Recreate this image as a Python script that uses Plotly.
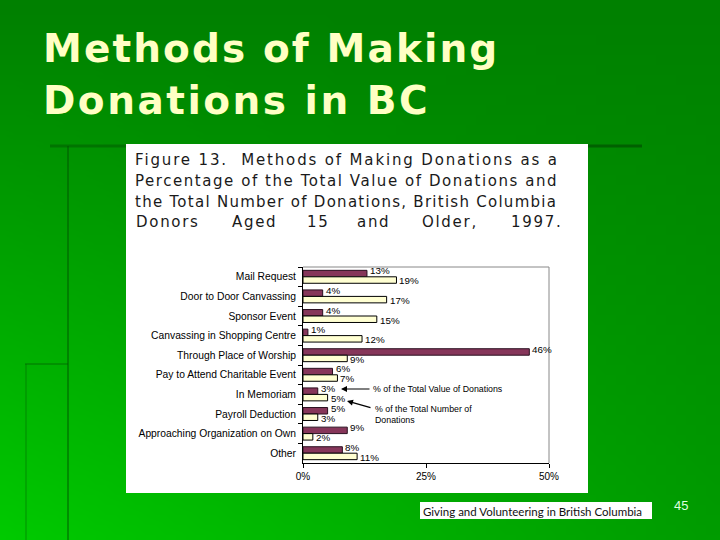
import base64, struct, zlib
import plotly.graph_objects as go

# ---------------- data ----------------
categories = [
    "Mail Request",
    "Door to Door Canvassing",
    "Sponsor Event",
    "Canvassing in Shopping Centre",
    "Through Place of Worship",
    "Pay to Attend Charitable Event",
    "In Memoriam",
    "Payroll Deduction",
    "Approaching Organization on Own",
    "Other",
]
pct_value = [13, 4, 4, 1, 46, 6, 3, 5, 9, 8]
pct_number = [19, 17, 15, 12, 9, 7, 5, 3, 2, 11]
x_tick_vals = [0, 25, 50]
x_tick_text = ["0%", "25%", "50%"]

W, H = 720, 540


def px(x):
    return x / W


def py(y):
    return 1 - y / H


# ---------------- gradient background image ----------------
def gradient_png(w, h):
    rows = b""
    for j in range(h):
        row = b"\x00"
        for i in range(w):
            fy = j / (h - 1)
            fx = i / (w - 1)
            g = 128 + 74 * fy * (1 - 0.62 * fx)
            row += bytes([0, int(min(255, g)), 0])
        rows += row

    def chunk(t, d):
        c = struct.pack(">I", len(d)) + t + d
        return c + struct.pack(">I", zlib.crc32(t + d) & 0xFFFFFFFF)

    png = b"\x89PNG\r\n\x1a\n"
    png += chunk(b"IHDR", struct.pack(">IIBBBBB", w, h, 8, 2, 0, 0, 0))
    png += chunk(b"IDAT", zlib.compress(rows, 9))
    png += chunk(b"IEND", b"")
    return "data:image/png;base64," + base64.b64encode(png).decode()


fig = go.Figure()

fig.add_trace(go.Bar(
    y=categories, x=pct_value, orientation="h",
    name="% of the Total Value of Donations",
    marker=dict(color="#86365a", line=dict(color="#2a1020", width=1)),
))
fig.add_trace(go.Bar(
    y=categories, x=pct_number, orientation="h",
    name="% of the Total Number of Donations",
    marker=dict(color="#ffffd2", line=dict(color="#000", width=1)),
))

shapes = [
    dict(type="rect", xref="paper", yref="paper", x0=px(126), x1=px(588),
         y0=py(493), y1=py(144), fillcolor="white", line=dict(width=0), layer="below"),
    dict(type="line", xref="paper", yref="paper", x0=px(68), x1=px(68), y0=py(146), y1=py(540),
         line=dict(color="rgba(0,80,0,0.45)", width=2), layer="below"),
    dict(type="line", xref="paper", yref="paper", x0=px(50), x1=px(126), y0=py(146), y1=py(146),
         line=dict(color="rgba(0,80,0,0.45)", width=3), layer="below"),
    dict(type="line", xref="paper", yref="paper", x0=px(588), x1=px(642), y0=py(146), y1=py(146),
         line=dict(color="rgba(0,70,0,0.6)", width=3), layer="below"),
    dict(type="line", xref="paper", yref="paper", x0=px(25), x1=px(68), y0=py(364), y1=py(364),
         line=dict(color="rgba(0,90,0,0.35)", width=2), layer="below"),
    dict(type="line", xref="paper", yref="paper", x0=px(26), x1=px(26), y0=py(364), y1=py(540),
         line=dict(color="rgba(0,90,0,0.25)", width=2), layer="below"),
    dict(type="rect", xref="paper", yref="paper", x0=px(420), x1=px(652),
         y0=py(519), y1=py(502), fillcolor="white", line=dict(width=0), layer="below"),
]

ann = []
# value labels at bar ends (data coordinates)
LABEL_FONT = dict(family="Liberation Sans, Arial", size=9.8, color="#000")
for cat, v in zip(categories, pct_value):
    ann.append(dict(text=f"{v}%", x=v, y=cat, xref="x", yref="y", xanchor="left", yanchor="middle",
                    xshift=1, yshift=6, showarrow=False, font=LABEL_FONT))
for cat, v in zip(categories, pct_number):
    ann.append(dict(text=f"{v}%", x=v, y=cat, xref="x", yref="y", xanchor="left", yanchor="middle",
                    xshift=1, yshift=-4, showarrow=False, font=LABEL_FONT))

TITLE_FONT = dict(family="DejaVu Sans", size=39, color="#ffffc4")
ann.append(dict(text='<span style="letter-spacing:2.1px"><b>Methods of Making</b></span>', x=px(41), y=py(48),
                xref="paper", yref="paper",
                xanchor="left", yanchor="middle", showarrow=False, font=TITLE_FONT))
ann.append(dict(text='<span style="letter-spacing:2.5px"><b>Donations in BC</b></span>', x=px(41), y=py(101),
                xref="paper", yref="paper",
                xanchor="left", yanchor="middle", showarrow=False, font=TITLE_FONT))

CAP_FONT = dict(family="DejaVu Sans", size=15, color="#1a1a1a")
cap_lines = [
    ("Figure 13.  Methods of Making Donations as a", 160, 1.85),
    ("Percentage of the Total Value of Donations and", 181, 1.55),
    ("the Total Number of Donations, British Columbia", 202, 1.27),
]
for t, yy, sp in cap_lines:
    ann.append(dict(text=f'<span style="letter-spacing:{sp}px">{t}</span>', x=px(133), y=py(yy),
                    xref="paper", yref="paper",
                    xanchor="left", yanchor="middle", showarrow=False, font=CAP_FONT))
last_words = [("Donors", 134), ("Aged", 230), ("15", 305), ("and", 355), ("Older,", 420), ("1997.", 509)]
for t, xx in last_words:
    ann.append(dict(text=f'<span style="letter-spacing:1.7px">{t}</span>', x=px(xx), y=py(222),
                    xref="paper", yref="paper",
                    xanchor="left", yanchor="middle", showarrow=False, font=CAP_FONT))

NOTE_FONT = dict(family="Liberation Sans, Arial", size=8.8, color="#000")
ann.append(dict(text="% of the Total Value of Donations", x=px(371), y=py(389), xref="paper", yref="paper",
                xanchor="left", yanchor="middle", showarrow=False, font=NOTE_FONT))
ann.append(dict(text="", x=px(341), y=py(389), xref="paper", yref="paper",
                ax=30, ay=0, axref="pixel", ayref="pixel",
                showarrow=True, arrowhead=2, arrowsize=1, arrowwidth=1.2, arrowcolor="#000"))
ann.append(dict(text="% of the Total Number of<br>Donations", x=px(373), y=py(414), xref="paper", yref="paper",
                xanchor="left", yanchor="middle", align="left", showarrow=False, font=NOTE_FONT))
ann.append(dict(text="", x=px(347), y=py(401), xref="paper", yref="paper",
                ax=25, ay=7, axref="pixel", ayref="pixel",
                showarrow=True, arrowhead=2, arrowsize=1, arrowwidth=1.2, arrowcolor="#000"))

ann.append(dict(text="Giving and Volunteering in British Columbia", x=px(421), y=py(511), xref="paper", yref="paper",
                xanchor="left", yanchor="middle", showarrow=False,
                font=dict(family="Lato", size=11.5, color="#111")))
ann.append(dict(text="45", x=px(672), y=py(505), xref="paper", yref="paper",
                xanchor="left", yanchor="middle", showarrow=False,
                font=dict(family="Liberation Sans, Arial", size=13, color="#dfffdf")))

fig.update_layout(
    width=W, height=H,
    margin=dict(l=0, r=0, t=0, b=0),
    paper_bgcolor="#009000",
    plot_bgcolor="rgba(0,0,0,0)",
    showlegend=False,
    barmode="group",
    bargap=0.34,
    bargroupgap=0.0,
    images=[dict(source=gradient_png(72, 54), xref="paper", yref="paper", x=0, y=1,
                 sizex=1, sizey=1, sizing="stretch", layer="below", xanchor="left", yanchor="top")],
    shapes=shapes,
    annotations=ann,
    xaxis=dict(domain=[px(303), px(549)], range=[0, 50], tickvals=x_tick_vals, ticktext=x_tick_text,
               showgrid=False, zeroline=False, showline=True, linecolor="#000", linewidth=1,
               ticks="outside", ticklen=4, tickcolor="#000",
               tickfont=dict(family="Liberation Sans, Arial", size=10, color="#000"),
               automargin=False),
    yaxis=dict(domain=[py(463), py(267)], range=[len(categories) - 0.5, -0.5], autorange=False,
               type="category", showgrid=False,
               showline=True, linecolor="#000", linewidth=1,
               ticks="outside", ticklen=4, tickcolor="#000", tickson="boundaries",
               tickfont=dict(family="Liberation Sans, Arial", size=10.3, color="#000"),
               ticklabelstandoff=4, automargin=False),
)
fig.add_shape(type="line", xref="x domain", yref="y domain", x0=0, x1=1, y0=1, y1=1,
              line=dict(color="#888", width=1))
fig.add_shape(type="line", xref="x domain", yref="y domain", x0=1, x1=1, y0=0, y1=1,
              line=dict(color="#888", width=1))

fig.write_html("out.html", config={"displayModeBar": False},
               post_script="document.body.style.margin='0';document.body.style.overflow='hidden';")
